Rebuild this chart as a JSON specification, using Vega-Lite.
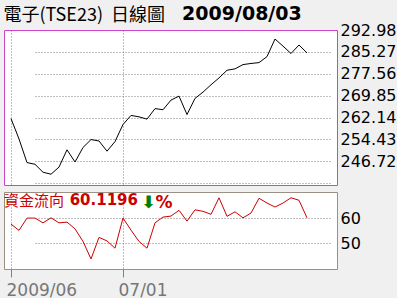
{
  "$schema": "https://vega.github.io/schema/vega-lite/v6.json",
  "background": "#f0f0f0",
  "padding": {"left": 3, "top": 4, "right": 0, "bottom": 0},
  "title": {
    "text": "電子(TSE23)\u00a0\u00a0日線圖",
    "subtitle": "\u200b\u00a0\u00a0\u00a0\u00a0\u00a0\u00a0\u00a0\u00a0\u00a0\u00a0\u00a0\u00a0\u00a0\u00a0\u00a0\u00a0\u00a0\u00a0\u00a0\u00a0\u00a0\u00a0\u00a0\u00a0\u00a0\u00a0\u00a02009/08/03",
    "anchor": "start",
    "font": "Noto Sans CJK TC",
    "fontSize": 18,
    "fontWeight": "normal",
    "color": "#000000",
    "subtitleFont": "DejaVu Sans",
    "subtitleFontSize": 19,
    "subtitleFontWeight": "bold",
    "subtitleColor": "#000000",
    "subtitlePadding": -20,
    "offset": -5
  },
  "datasets": {
    "d": [
      {"date": "2009/06/11", "price": 261.8, "flow": 57.6},
      {"date": "2009/06/12", "price": 254.6, "flow": 55.1},
      {"date": "2009/06/15", "price": 246.3, "flow": 60.0},
      {"date": "2009/06/16", "price": 245.7, "flow": 60.0},
      {"date": "2009/06/17", "price": 242.9, "flow": 58.1},
      {"date": "2009/06/18", "price": 242.2, "flow": 60.1},
      {"date": "2009/06/19", "price": 244.7, "flow": 58.1},
      {"date": "2009/06/22", "price": 250.8, "flow": 58.4},
      {"date": "2009/06/23", "price": 246.5, "flow": 55.7},
      {"date": "2009/06/24", "price": 251.6, "flow": 50.7},
      {"date": "2009/06/25", "price": 254.4, "flow": 43.7},
      {"date": "2009/06/26", "price": 253.9, "flow": 52.3},
      {"date": "2009/06/29", "price": 250.3, "flow": 50.9},
      {"date": "2009/06/30", "price": 253.7, "flow": 48.0},
      {"date": "2009/07/01", "price": 259.7, "flow": 60.0},
      {"date": "2009/07/02", "price": 262.9, "flow": 55.2},
      {"date": "2009/07/03", "price": 262.4, "flow": 50.7},
      {"date": "2009/07/06", "price": 261.6, "flow": 48.0},
      {"date": "2009/07/07", "price": 265.3, "flow": 58.1},
      {"date": "2009/07/08", "price": 264.9, "flow": 60.4},
      {"date": "2009/07/09", "price": 268.3, "flow": 60.8},
      {"date": "2009/07/10", "price": 269.7, "flow": 63.1},
      {"date": "2009/07/13", "price": 263.2, "flow": 58.8},
      {"date": "2009/07/14", "price": 268.9, "flow": 63.3},
      {"date": "2009/07/15", "price": 271.1, "flow": 62.7},
      {"date": "2009/07/16", "price": 273.7, "flow": 61.5},
      {"date": "2009/07/17", "price": 276.1, "flow": 68.1},
      {"date": "2009/07/20", "price": 278.8, "flow": 60.7},
      {"date": "2009/07/21", "price": 279.3, "flow": 62.5},
      {"date": "2009/07/22", "price": 280.8, "flow": 60.1},
      {"date": "2009/07/23", "price": 281.2, "flow": 62.0},
      {"date": "2009/07/24", "price": 281.5, "flow": 67.9},
      {"date": "2009/07/27", "price": 283.6, "flow": 66.0},
      {"date": "2009/07/28", "price": 289.8, "flow": 64.4},
      {"date": "2009/07/29", "price": 287.3, "flow": 66.0},
      {"date": "2009/07/30", "price": 284.7, "flow": 68.1},
      {"date": "2009/07/31", "price": 287.7, "flow": 67.1},
      {"date": "2009/08/03", "price": 284.9, "flow": 60.1196}
    ]
  },
  "data": {"name": "d"},
  "spacing": -4,
  "vconcat": [
    {
      "width": 333,
      "height": 155,
      "view": {"stroke": "#cc44cc", "strokeWidth": 1, "fill": "#ffffff"},
      "mark": {"type": "line", "color": "#000000", "strokeWidth": 1},
      "encoding": {
        "x": {
          "field": "date", "type": "ordinal",
          "scale": {"type": "point", "padding": 0, "range": [7, 303]},
          "axis": {
            "values": ["2009/06/11", "2009/07/01"],
            "labels": false, "ticks": false, "domain": false, "title": null,
            "grid": true, "gridColor": "#808080", "gridDash": [1, 2], "gridWidth": 1
          }
        },
        "y": {
          "field": "price", "type": "quantitative",
          "scale": {"domain": [238.4, 292.98], "nice": false, "zero": false},
          "axis": {
            "orient": "right",
            "values": [239.01, 246.72, 254.43, 262.14, 269.85, 277.56, 285.27, 292.98],
            "labelExpr": "datum.value < 240 ? '' : format(datum.value, '.2f')",
            "labelFont": "DejaVu Sans", "labelFontSize": 16, "labelColor": "#000000",
            "labelBaseline": "middle", "labelPadding": 3,
            "labelFlush": false, "labelBound": false, "labelOverlap": false,
            "ticks": false, "domain": false, "title": null,
            "grid": true, "gridColor": "#808080", "gridDash": [1, 2], "gridWidth": 1,
            "gridOpacity": {"condition": {"test": "datum.value > 290", "value": 0}, "value": 1}
          }
        }
      }
    },
    {
      "width": 333,
      "height": 77,
      "view": {"stroke": "#9a9084", "strokeWidth": 1, "fill": "#ffffff"},
      "title": {
        "text": "資金流向",
        "subtitle": "\u200b\u00a0\u00a0\u00a0\u00a0\u00a0\u00a0\u00a0\u00a0\u00a0\u00a0\u00a0\u00a0\u200960.1196",
        "anchor": "start",
        "font": "Noto Sans CJK TC",
        "fontSize": 15,
        "fontWeight": "normal",
        "color": "#cc0000",
        "subtitleFont": "DejaVu Sans",
        "subtitleFontSize": 15,
        "subtitleFontWeight": "bold",
        "subtitleColor": "#cc0000",
        "subtitlePadding": -16,
        "offset": -18
      },
      "mark": {"type": "line", "color": "#cc0000", "strokeWidth": 1},
      "encoding": {
        "x": {
          "field": "date", "type": "ordinal",
          "scale": {"type": "point", "padding": 0, "range": [7, 303]},
          "axis": {
            "values": ["2009/06/11", "2009/07/01"],
            "labelExpr": "datum.value == '2009/06/11' ? '2009/06' : '07/01'",
            "labelAngle": 0, "labelAlign": "left", "labelOffset": -5,
            "labelFont": "DejaVu Sans", "labelFontSize": 17, "labelColor": "#777777",
            "labelPadding": 5, "labelFlush": false, "labelBound": false,
            "ticks": true, "tickSize": 8, "tickColor": "#808080", "tickWidth": 1,
            "domain": false,
            "grid": true, "gridColor": "#808080", "gridDash": [1, 2], "gridWidth": 1,
            "title": "⬇",
            "titleColor": "#008000", "titleFont": "DejaVu Sans", "titleFontSize": 17, "titleFontWeight": "bold",
            "titleAlign": "left", "titleBaseline": "middle", "titleAngle": 0,
            "titleX": 137, "titleY": -67
          }
        },
        "y": {
          "field": "flow", "type": "quantitative",
          "scale": {"domain": [39.7, 70.4], "nice": false, "zero": false},
          "axis": {
            "orient": "right",
            "values": [50, 60],
            "labelFont": "DejaVu Sans", "labelFontSize": 16, "labelColor": "#000000",
            "labelBaseline": "middle", "labelPadding": 3,
            "labelFlush": false, "labelBound": false,
            "ticks": false, "domain": false,
            "grid": true, "gridColor": "#808080", "gridDash": [1, 2], "gridWidth": 1,
            "title": "%",
            "titleColor": "#cc0000", "titleFont": "DejaVu Sans", "titleFontSize": 17, "titleFontWeight": "bold",
            "titleAlign": "left", "titleBaseline": "middle", "titleAngle": 0,
            "titleX": -182, "titleY": 10
          }
        }
      }
    }
  ],
  "config": {
    "font": "DejaVu Sans"
  }
}
